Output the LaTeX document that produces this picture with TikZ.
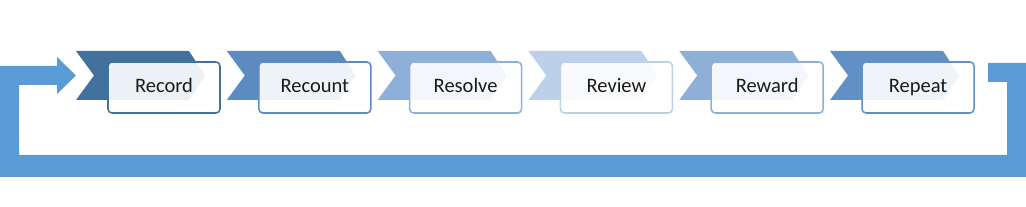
\documentclass[tikz,border=0pt]{standalone}
\usepackage{fontspec}
\setmainfont{Carlito}
\usepackage{tikz}
\usetikzlibrary{positioning,calc}
\definecolor{loopblue}{HTML}{5B9BD5}
\definecolor{stepa}{HTML}{41719C}
\definecolor{stepb}{HTML}{5B8BC0}
\definecolor{stepc}{HTML}{8EAFD8}
\definecolor{stepd}{HTML}{BDD0EA}
\definecolor{stepe}{HTML}{8EAFD8}
\definecolor{stepf}{HTML}{6090C5}
\definecolor{ink}{HTML}{1A1A1A}
\tikzset{
  stagebox/.style={rectangle,rounded corners=0.12cm,line width=1.3pt,
    minimum width=3.36cm,minimum height=1.53cm,fill=white,fill opacity=0.9,
    text opacity=1,text=ink,font=\fontsize{17.5}{20}\selectfont,
    text height=0.9em,text depth=0.1em}
}

\begin{document}
\begin{tikzpicture}[x=0.03cm,y=-0.03cm]
      \useasboundingbox (0,0) rectangle (1026,207);
      % feedback loop
      \fill[loopblue] (0,177) -- (1026,177) -- (1026,63) -- (988,63) -- (988,82)
        -- (1007,82) -- (1007,155) -- (19,155) -- (19,85) -- (57,85) -- (57,94)
        -- (76,75.5) -- (57,57) -- (57,66) -- (0,66) -- cycle;
      \foreach \k/\lbl/\col in {0/Record/stepa,1/Recount/stepb,2/Resolve/stepc,
          3/Review/stepd,4/Reward/stepe,5/Repeat/stepf} {
        \begin{scope}[xshift=\k*4.524cm]
        \fill[\col] (76,51) -- (189,51) -- (205,75.5) -- (189,100) -- (76,100)
          -- (94,75.5) -- cycle;
        \node[stagebox,draw=\col] (s\k) at (164,87.5) {\lbl};
        \end{scope}
      }
    \end{tikzpicture}
\end{document}
